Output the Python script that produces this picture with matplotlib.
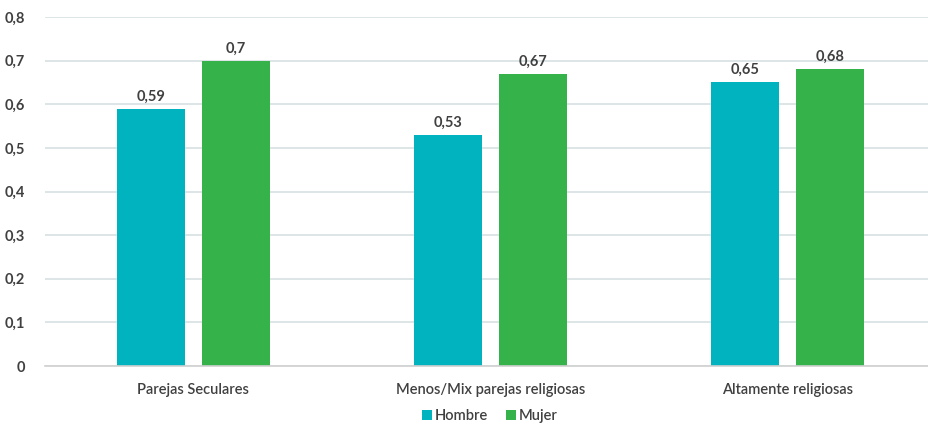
import matplotlib
matplotlib.use("Agg")
import matplotlib.pyplot as plt
import numpy as np

categories = ["Parejas Seculares", "Menos/Mix parejas religiosas", "Altamente religiosas"]
hombre = [0.59, 0.53, 0.65]
mujer = [0.70, 0.67, 0.68]
labels_h = ["0,59", "0,53", "0,65"]
labels_m = ["0,7", "0,67", "0,68"]
yticks = [0, 0.1, 0.2, 0.3, 0.4, 0.5, 0.6, 0.7, 0.8]
ytick_labels = ["0", "0,1", "0,2", "0,3", "0,4", "0,5", "0,6", "0,7", "0,8"]

plt.rcParams['font.family'] = ['Lato', 'DejaVu Sans']

fig = plt.figure(figsize=(9.29, 4.26), dpi=100)
ax = fig.add_axes([0.048, 0.1408, 0.952, 0.8192])

x = np.arange(len(categories))
w = 0.229
off = 0.143
c_h = "#00B3BE"
c_m = "#35B24A"
b1 = ax.bar(x - off, hombre, w, color=c_h, label="Hombre", zorder=3)
b2 = ax.bar(x + off, mujer, w, color=c_m, label="Mujer", zorder=3)

txtc = "#404040"
for rect, lab in zip(b1, labels_h):
    ax.text(rect.get_x() + rect.get_width() / 2, rect.get_height() + 0.012, lab,
            ha="center", va="bottom", fontsize=10.5, fontweight="bold", color=txtc)
for rect, lab in zip(b2, labels_m):
    ax.text(rect.get_x() + rect.get_width() / 2, rect.get_height() + 0.012, lab,
            ha="center", va="bottom", fontsize=10.5, fontweight="bold", color=txtc)

ax.set_ylim(0, 0.8)
ax.set_xlim(-0.5, 2.476)
ax.set_yticks(yticks)
ax.set_yticklabels(ytick_labels, fontsize=10.5, fontweight="bold", color=txtc)
ax.set_xticks(x)
ax.set_xticklabels(categories, fontsize=10.5, fontweight="semibold", color=txtc)
ax.tick_params(axis="both", length=0)
ax.tick_params(axis="x", pad=12)
ax.tick_params(axis="y", pad=14)
ax.grid(axis="y", color="#D8E0E3", linewidth=1.2, zorder=0)
for s in ["top", "right", "left"]:
    ax.spines[s].set_visible(False)
ax.spines["bottom"].set_color("#D0D0D0")
ax.spines["bottom"].set_linewidth(1.2)
ax.spines["bottom"].set_zorder(4)

leg = fig.legend(handles=[b1, b2], labels=["Hombre", "Mujer"], loc="center",
                 bbox_to_anchor=(490 / 929, 1 - 416 / 426), ncol=2, frameon=False,
                 fontsize=10.5, handlelength=0.7, handleheight=0.7, handletextpad=0.2,
                 columnspacing=1.2, prop={"weight": "semibold", "size": 10.5})
for t in leg.get_texts():
    t.set_color(txtc)

fig.savefig("out.png", dpi=100)
